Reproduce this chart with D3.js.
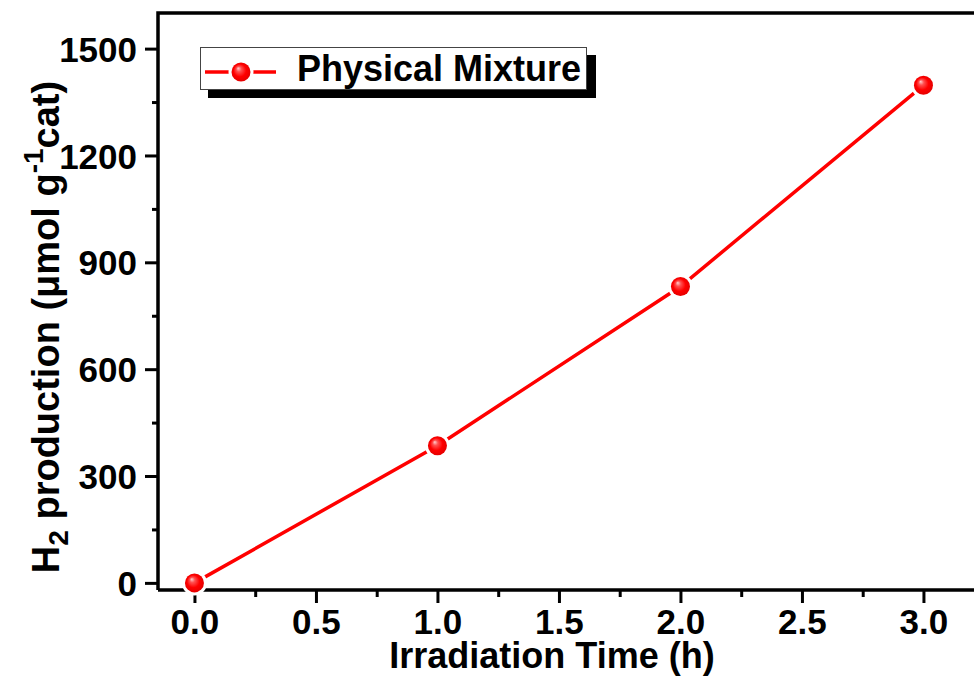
<!DOCTYPE html>
<html><head><meta charset="utf-8">
<script src="https://cdn.jsdelivr.net/npm/d3@7"></script>
<style>
html,body{margin:0;padding:0;background:#fff;}
svg{display:block;font-family:"Liberation Sans",Arial,sans-serif;font-weight:bold;}
</style></head>
<body>
<svg id="chart" width="974" height="692"></svg>
<script>
const times = [0, 1, 2, 3];
const h2Production = [0, 385, 832, 1397];
const seriesName = "Physical Mixture";
const xTickValues = [0, 0.5, 1.0, 1.5, 2.0, 2.5, 3.0];
const xMinorValues = [0.25, 0.75, 1.25, 1.75, 2.25, 2.75];
const yTickValues = [0, 300, 600, 900, 1200, 1500];
const yMinorValues = [150, 450, 750, 1050, 1350];

(function draw() {
const svg = d3.select("#chart");
const pLeft = 158, pTop = 13, pBottom = 590, pRight = 1008.5;
const x = d3.scaleLinear().domain([-0.15, 3.35]).range([pLeft, pRight]);
const y = d3.scaleLinear().domain([-20, 1600]).range([pBottom, pTop]);

const defs = svg.append("defs");
const grad = defs.append("radialGradient").attr("id", "ball")
  .attr("cx", "50%").attr("cy", "50%").attr("r", "55%")
  .attr("fx", "35%").attr("fy", "30%");
grad.append("stop").attr("offset", "0%").attr("stop-color", "#ffd0d0");
grad.append("stop").attr("offset", "25%").attr("stop-color", "#ff5050");
grad.append("stop").attr("offset", "60%").attr("stop-color", "#ff0000");
grad.append("stop").attr("offset", "100%").attr("stop-color", "#e00000");

const xAxis = d3.axisBottom(x).tickValues(xTickValues).tickFormat(d3.format(".1f")).tickSize(13).tickPadding(6);
const gx = svg.append("g").attr("transform", `translate(0,${pBottom})`).call(xAxis);
gx.select(".domain").remove();
gx.selectAll("line").attr("stroke", "#000").attr("stroke-width", 3);
gx.selectAll("text").attr("font-size", 35).attr("font-family", "Liberation Sans, Arial, sans-serif").attr("font-weight", "bold").attr("fill", "#000").attr("dy", "0.7em");

const xMinor = d3.axisBottom(x).tickValues(xMinorValues).tickSize(7).tickFormat("");
const gxm = svg.append("g").attr("transform", `translate(0,${pBottom})`).call(xMinor);
gxm.select(".domain").remove();
gxm.selectAll("line").attr("stroke", "#000").attr("stroke-width", 3);

const yAxis = d3.axisLeft(y).tickValues(yTickValues).tickFormat(d3.format("d")).tickSize(13).tickPadding(8);
const gy = svg.append("g").attr("transform", `translate(${pLeft},0)`).call(yAxis);
gy.select(".domain").remove();
gy.selectAll("line").attr("stroke", "#000").attr("stroke-width", 3);
gy.selectAll("text").attr("font-size", 35).attr("font-family", "Liberation Sans, Arial, sans-serif").attr("font-weight", "bold").attr("fill", "#000").attr("dy", "0.36em");

const yMinor = d3.axisLeft(y).tickValues(yMinorValues).tickSize(6).tickFormat("");
const gym = svg.append("g").attr("transform", `translate(${pLeft},0)`).call(yMinor);
gym.select(".domain").remove();
gym.selectAll("line").attr("stroke", "#000").attr("stroke-width", 3);

svg.append("path")
  .attr("d", `M${pLeft},${pBottom}H${pRight}M${pLeft},${pBottom}V${pTop}H${pRight}V${pBottom}`)
  .attr("fill", "none").attr("stroke", "#000").attr("stroke-width", 3.5);

const data = times.map((t, i) => ({t, v: h2Production[i]}));
svg.append("path").datum(data)
  .attr("d", d3.line().x(d => x(d.t)).y(d => y(d.v)))
  .attr("fill", "none").attr("stroke", "#ff0000").attr("stroke-width", 3.5);
svg.append("g").selectAll("circle").data(data).join("circle")
  .attr("cx", d => x(d.t)).attr("cy", d => y(d.v)).attr("r", 12.5).attr("fill", "#fff");
svg.append("g").selectAll("circle").data(data).join("circle")
  .attr("cx", d => x(d.t)).attr("cy", d => y(d.v)).attr("r", 9.5).attr("fill", "url(#ball)");

const lg = svg.append("g");
lg.append("rect").attr("x", 208).attr("y", 55).attr("width", 388).attr("height", 43).attr("fill", "#000");
lg.append("rect").attr("x", 200.5).attr("y", 47.5).attr("width", 386).attr("height", 42).attr("fill", "#fff").attr("stroke", "#444").attr("stroke-width", 1);
lg.append("line").attr("x1", 205).attr("x2", 276).attr("y1", 72).attr("y2", 72).attr("stroke", "#ff0000").attr("stroke-width", 3.5);
lg.append("circle").attr("cx", 241).attr("cy", 72).attr("r", 12.5).attr("fill", "#fff");
lg.append("circle").attr("cx", 241).attr("cy", 72).attr("r", 9.5).attr("fill", "url(#ball)");
lg.append("text").attr("x", 297).attr("y", 81).attr("font-size", 36).attr("fill", "#000").text(seriesName);

svg.append("text").attr("x", 552).attr("y", 668).attr("text-anchor", "middle").attr("font-size", 36).attr("fill", "#000")
  .text("Irradiation Time (h)");

const yt = svg.append("text").attr("transform", "translate(59,327) rotate(-90)").attr("text-anchor", "middle").attr("font-size", 38).attr("fill", "#000");
yt.append("tspan").text("H");
yt.append("tspan").attr("font-size", 28).attr("dy", 9).text("2");
yt.append("tspan").attr("dy", -9).text(" production (μmol g");
yt.append("tspan").attr("font-size", 28).attr("dy", -16).text("-1");
yt.append("tspan").attr("dy", 16).text("cat)");
})();
</script>
</body></html>
